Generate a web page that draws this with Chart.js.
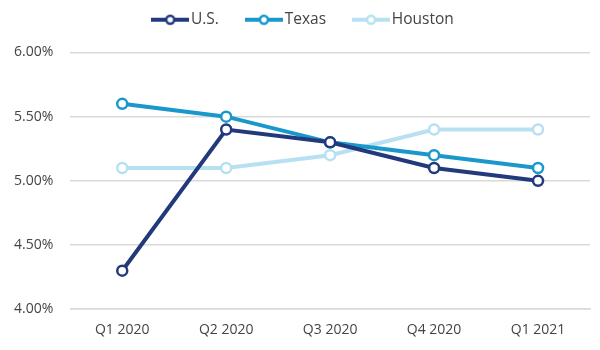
<!DOCTYPE html>
<html>
<head>
<meta charset="utf-8">
<script src="https://cdn.jsdelivr.net/npm/chart.js@4/dist/chart.umd.min.js"></script>
<style>
  html, body { margin: 0; padding: 0; background: #fff; }
  #wrap { width: 600px; height: 350px; }
</style>
</head>
<body>
<div id="wrap"><canvas id="myChart"></canvas></div>
<script>

var quarters = ['Q1 2020', 'Q2 2020', 'Q3 2020', 'Q4 2020', 'Q1 2021'];
var usData = [4.3, 5.4, 5.3, 5.1, 5.0];
var texasData = [5.6, 5.5, 5.3, 5.2, 5.1];
var houstonData = [5.1, 5.1, 5.2, 5.4, 5.4];

var navy = '#223a7c';
var blue = '#1a98cc';
var light = '#b7e1f2';

// little line+circle swatch for the legend
function legendSwatch(color){
	var c = document.createElement('canvas');
	c.width = 38;
	c.height = 12;
	var g = c.getContext('2d');
	g.strokeStyle = color;
	g.lineWidth = 4;
	g.beginPath();
	g.moveTo(0, 6);
	g.lineTo(38, 6);
	g.stroke();
	g.fillStyle = '#fff';
	g.lineWidth = 2.5;
	g.beginPath();
	g.arc(19, 6, 4, 0, Math.PI * 2);
	g.fill();
	g.stroke();
	return c;
}

function makeSet(label, data, color){
	return {
		label: label,
		data: data,
		borderColor: color,
		backgroundColor: '#fff',
		borderWidth: 4,
		pointRadius: 5,
		pointBorderWidth: 2.5,
		pointBackgroundColor: '#fff',
		pointBorderColor: color,
		swatch: legendSwatch(color),
		tension: 0
	};
}

var datasets = [
	makeSet('U.S.', usData, navy),
	makeSet('Texas', texasData, blue),
	makeSet('Houston', houstonData, light)
];

// extra room under the legend, and nudge it right a little
var legendGap = {
	id: 'legendGap',
	beforeInit(chart){
		var lg = chart.legend;
		var fit = lg.fit;
		lg.fit = function(){
			fit.bind(lg)();
			this.height += 15;
		};
		var draw = lg.draw;
		lg.draw = function(){
			var c = chart.ctx;
			c.save();
			c.translate(12, 0);
			draw.bind(lg)();
			c.restore();
		};
	}
};

Chart.defaults.font.family = '"Open Sans", sans-serif';
Chart.defaults.font.size = 14;
Chart.defaults.color = '#444';

const ctx = document.getElementById('myChart').getContext('2d');
const chart = new Chart(ctx, {
	type: 'line',
	data: {
		labels: quarters,
		datasets: datasets
	},
	plugins: [legendGap],
	options: {
		responsive: true,
		maintainAspectRatio: false,
		animation: false,
		layout: { padding: { left: -3, right: 10, top: -20, bottom: 0 } },
		plugins: {
			legend: {
				position: 'top',
				labels: {
					usePointStyle: true,
					pointStyleWidth: 26,
					padding: 32,
					color: '#444',
					font: { size: 15.5 },
					generateLabels: function(chart){
						return chart.data.datasets.map(function(d, i){
							return {
								text: d.label,
								pointStyle: d.swatch,
								fillStyle: '#fff',
								strokeStyle: d.borderColor,
								lineWidth: 0,
								hidden: false,
								datasetIndex: i,
								fontColor: '#444'
							};
						});
					}
				}
			},
			tooltip: { enabled: false }
		},
		scales: {
			x: {
				offset: true,
				grid: { display: false, drawTicks: false, offset: true },
				border: { display: true, color: '#d9d9d9', width: 1.5 },
				ticks: { padding: 12, color: '#444', maxRotation: 0 }
			},
			y: {
				min: 4,
				max: 6,
				grid: { color: '#d9d9d9', lineWidth: 1.5, drawTicks: false },
				border: { display: false },
				ticks: {
					stepSize: 0.5,
					padding: 17,
					color: '#444',
					callback: function(v){ return v.toFixed(2) + '%'; }
				}
			}
		}
	}
});

</script>
</body>
</html>
